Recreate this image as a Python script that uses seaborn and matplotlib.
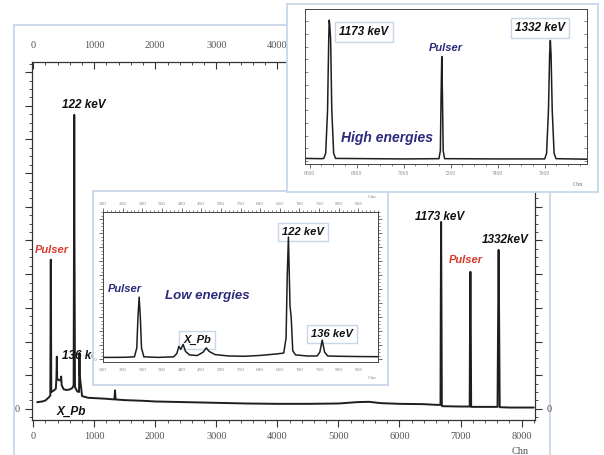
import matplotlib
matplotlib.use("Agg")
import matplotlib.pyplot as plt
import matplotlib.lines as mlines
import seaborn as sns
from matplotlib.ticker import MultipleLocator, FixedLocator, FuncFormatter, NullFormatter

# ---------------- data ----------------
main_chn = [65, 150, 200, 260, 280, 285, 288, 291, 296, 340, 370, 380, 387, 392, 420, 450,
            458, 466, 500, 550, 600, 640, 662, 668, 672, 676, 684, 720, 750, 754, 758, 762,
            800, 900, 1000, 1200, 1330, 1340, 1350, 1500, 1800, 2000, 2500, 3000, 3500,
            4000, 4500, 5000, 5300, 5500, 5700, 6000, 6400, 6600, 6672, 6676, 6682, 6688,
            6694, 6700, 7000, 7150, 7155, 7162, 7169, 7174, 7400, 7606, 7615, 7624, 7633,
            7642, 7800, 8200]
main_counts = [20, 22, 25, 35, 40, 300, 443, 300, 50, 55, 60, 90, 155, 90, 85, 85,
               96, 70, 58, 56, 58, 62, 70, 500, 873, 500, 65, 52, 50, 100, 166, 100,
               38, 33, 32, 30, 28, 55, 28, 26, 24, 22, 20, 18, 16,
               15, 15, 16, 20, 21, 17, 15, 14, 12, 12, 300, 555, 300,
               10, 8, 7, 7, 220, 407, 220, 6, 6, 6, 250, 472, 250,
               5, 4, 4]

low_chn = [200, 230, 260, 280, 286, 289, 292, 295, 298, 304, 340, 380, 388, 393, 398, 404,
           410, 420, 440, 455, 463, 470, 485, 520, 560, 600, 640, 660, 666, 669, 672, 676,
           679, 683, 690, 720, 745, 752, 758, 764, 772, 800, 850, 900]
low_counts = [12, 12, 13, 16, 80, 300, 443, 300, 80, 16, 12, 16, 40, 90, 70, 105,
              55, 30, 25, 50, 80, 55, 32, 22, 20, 26, 36, 43, 150, 600, 873, 380,
              300, 60, 30, 22, 22, 50, 136, 50, 22, 20, 18, 17]

high_chn = [6580, 6650, 6660, 6668, 6676, 6681, 6683, 6685, 6689, 6694, 6702, 6710, 7000,
            7150, 7156, 7159, 7162, 7165, 7168, 7174, 7400, 7600, 7608, 7616, 7621, 7624,
            7627, 7632, 7640, 7648, 7780]
high_counts = [10, 9, 10, 30, 200, 480, 555, 540, 480, 200, 30, 10, 8,
               9, 40, 250, 412, 250, 40, 9, 8, 8, 30, 200, 420, 475,
               420, 200, 30, 9, 7]

main_xticks = [0, 1000, 2000, 3000, 4000, 5000, 6000, 7000, 8000]
low_xticks = [200, 250, 300, 350, 400, 450, 500, 550, 600, 650, 700, 750, 800, 850]
high_xticks = [6600, 6800, 7000, 7200, 7400, 7600]

# ---------------- layout helpers ----------------
W, H = 604, 455
sns.set_style("white")
plt.rcParams["font.family"] = ["Liberation Sans", "DejaVu Sans"]

fig = plt.figure(figsize=(W / 100, H / 100), dpi=100)
fig.patch.set_facecolor("white")


def fbox(x0, y0, x1, y1):
    return [x0 / W, 1 - y1 / H, (x1 - x0) / W, (y1 - y0) / H]


FRAME = "#c8d7ea"
LINE = "#1e1e1e"
NAVY = "#2c2a7c"
RED = "#d8392b"
SERIF = ["Liberation Serif", "DejaVu Serif"]


def frame_axes(x0, y0, x1, y1, z):
    a = fig.add_axes(fbox(x0, y0, x1, y1), zorder=z)
    a.set_facecolor("white")
    a.set_xticks([])
    a.set_yticks([])
    for s in a.spines.values():
        s.set_color(FRAME)
        s.set_linewidth(1.3)
    return a


def px_to_ax(box, px, py):
    x0, y0, x1, y1 = box
    return (px - x0) / (x1 - x0), (y1 - py) / (y1 - y0)


def zero_only(v, pos):
    return "0" if abs(v) < 1e-6 else ""


# ---------------- main panel ----------------
frame_axes(14, 25, 550, 458, 0)
MAIN = (32, 62, 535, 420)
ax = fig.add_axes(fbox(*MAIN), zorder=1)
ax.set_facecolor("none")
sns.lineplot(x=main_chn, y=main_counts, ax=ax, color=LINE, lw=1.4,
             estimator=None, sort=False)
ax.set_xlim(-20, 8220)
ax.set_ylim(-33, 1030)
ax.set_xlabel("")
ax.set_ylabel("")
for s in ax.spines.values():
    s.set_color("#333333")
    s.set_linewidth(0.9)
ax.xaxis.set_major_locator(FixedLocator(main_xticks))
ax.xaxis.set_minor_locator(MultipleLocator(200))
ax.yaxis.set_major_locator(MultipleLocator(100))
ax.yaxis.set_minor_locator(MultipleLocator(25))
ax.yaxis.set_major_formatter(FuncFormatter(zero_only))
ax.tick_params(axis="x", which="both", top=True, bottom=True, labeltop=True,
               direction="out", colors="#333333", labelcolor="#555555", labelsize=7.5)
ax.tick_params(axis="x", which="major", length=5, width=0.8)
ax.tick_params(axis="x", which="minor", length=2.5, width=0.6)
ax.tick_params(axis="y", which="both", left=True, right=True, labelright=True,
               direction="out", colors="#333333", labelcolor="#555555", labelsize=7.5)
ax.tick_params(axis="y", which="major", length=5, width=0.8)
ax.tick_params(axis="y", which="minor", length=2.5, width=0.6)
for lab in ax.get_xticklabels() + ax.get_yticklabels():
    lab.set_family(SERIF)
for t in ax.xaxis.get_major_ticks() + ax.xaxis.get_minor_ticks():
    t.tick2line.set_marker(mlines.TICKDOWN)
# the top labels to the right of 4000 lie under the high-energy inset
for t, loc in zip(ax.xaxis.get_major_ticks(), main_xticks):
    if loc > 4000:
        t.label2.set_visible(False)

bi = dict(fontweight="bold", fontstyle="italic")
ax.text(*px_to_ax(MAIN, 84, 105), "122 keV", transform=ax.transAxes, ha="center",
        va="center", fontsize=8.5, color="#111111", **bi)
ax.text(*px_to_ax(MAIN, 52, 250), "Pulser", transform=ax.transAxes, ha="center",
        va="center", fontsize=8, color=RED, **bi)
ax.text(*px_to_ax(MAIN, 62, 356), "136 keV", transform=ax.transAxes, ha="left",
        va="center", fontsize=8.5, color="#111111", **bi)
ax.text(*px_to_ax(MAIN, 57, 412), "X_Pb", transform=ax.transAxes, ha="left",
        va="center", fontsize=8.5, color="#111111", **bi)
ax.text(*px_to_ax(MAIN, 440, 217), "1173 keV", transform=ax.transAxes, ha="center",
        va="center", fontsize=8.5, color="#111111", **bi)
ax.text(*px_to_ax(MAIN, 466, 260), "Pulser", transform=ax.transAxes, ha="center",
        va="center", fontsize=8, color=RED, **bi)
ax.text(*px_to_ax(MAIN, 505, 240), "1332keV", transform=ax.transAxes, ha="center",
        va="center", fontsize=8.5, color="#111111", **bi)
fig.text(520 / W, 1 - 451 / H, "Chn", ha="center", va="center", fontsize=7.5,
         color="#555555", family=SERIF)

# ---------------- low-energy inset ----------------
frame_axes(93, 191, 388, 385, 2)
LOW = (103, 212, 378, 362)
axl = fig.add_axes(fbox(*LOW), zorder=3)
axl.set_facecolor("white")
sns.lineplot(x=low_chn, y=low_counts, ax=axl, color=LINE, lw=1.1,
             estimator=None, sort=False)
axl.set_xlim(200, 900)
axl.set_ylim(-21, 1052)
axl.set_xlabel("")
axl.set_ylabel("")
for s in axl.spines.values():
    s.set_color("#444444")
    s.set_linewidth(0.7)
axl.xaxis.set_major_locator(FixedLocator(low_xticks))
axl.xaxis.set_minor_locator(MultipleLocator(10))
axl.yaxis.set_major_locator(MultipleLocator(100))
axl.yaxis.set_minor_locator(MultipleLocator(25))
axl.yaxis.set_major_formatter(FuncFormatter(zero_only))
axl.tick_params(axis="x", which="both", top=True, labeltop=True, direction="out",
                colors="#555555", labelcolor="#888888", labelsize=3.8, pad=1.5)
axl.tick_params(axis="x", which="major", length=3, width=0.6)
axl.tick_params(axis="x", which="minor", length=1.5, width=0.5)
axl.tick_params(axis="y", which="both", left=True, right=True, direction="out",
                colors="#555555", labelcolor="#888888", labelsize=3.8, pad=1.5)
axl.tick_params(axis="y", which="major", length=3, width=0.6)
axl.tick_params(axis="y", which="minor", length=1.5, width=0.5)
for lab in axl.get_xticklabels() + axl.get_yticklabels():
    lab.set_family(SERIF)

box_style = dict(boxstyle="square,pad=0.35", facecolor="white", edgecolor=FRAME, linewidth=1)
axl.text(*px_to_ax(LOW, 125, 289), "Pulser", transform=axl.transAxes, ha="center",
         va="center", fontsize=8, color=NAVY, **bi)
axl.text(*px_to_ax(LOW, 207, 296), "Low energies", transform=axl.transAxes, ha="center",
         va="center", fontsize=9.5, color=NAVY, **bi)
axl.text(*px_to_ax(LOW, 197, 340), "X_Pb", transform=axl.transAxes, ha="center",
         va="center", fontsize=8, color="#111111", bbox=box_style, zorder=1, **bi)
axl.text(*px_to_ax(LOW, 303, 232), "122 keV", transform=axl.transAxes, ha="center",
         va="center", fontsize=8, color="#111111", bbox=box_style, zorder=1, **bi)
axl.text(*px_to_ax(LOW, 332, 334), "136 keV", transform=axl.transAxes, ha="center",
         va="center", fontsize=8, color="#111111", bbox=box_style, zorder=1, **bi)
axl.text(*px_to_ax(LOW, 372, 197), "Chn", transform=axl.transAxes, ha="center",
         va="center", fontsize=3.8, color="#888888", family=SERIF)
axl.text(*px_to_ax(LOW, 372, 378), "Chn", transform=axl.transAxes, ha="center",
         va="center", fontsize=3.8, color="#888888", family=SERIF)
axl.get_lines()[0].set_zorder(2)

# ---------------- high-energy inset ----------------
frame_axes(287, 4, 598, 192, 4)
HIGH = (305, 9, 587, 164)
axh = fig.add_axes(fbox(*HIGH), zorder=5)
axh.set_facecolor("white")
sns.lineplot(x=high_chn, y=high_counts, ax=axh, color=LINE, lw=1.1,
             estimator=None, sort=False)
axh.set_xlim(6580, 7780)
axh.set_ylim(-12, 599)
axh.set_xlabel("")
axh.set_ylabel("")
for s in axh.spines.values():
    s.set_color("#444444")
    s.set_linewidth(0.7)
axh.xaxis.set_major_locator(FixedLocator(high_xticks))
axh.xaxis.set_minor_locator(MultipleLocator(50))
axh.yaxis.set_major_locator(MultipleLocator(50))
axh.yaxis.set_major_formatter(NullFormatter())
axh.tick_params(axis="x", which="both", bottom=True, direction="out",
                colors="#555555", labelcolor="#888888", labelsize=4, pad=2)
axh.tick_params(axis="x", which="major", length=3, width=0.6)
axh.tick_params(axis="x", which="minor", length=1.5, width=0.5)
axh.tick_params(axis="y", which="both", left=True, right=True, direction="in",
                colors="#555555", length=2, width=0.5)
for lab in axh.get_xticklabels():
    lab.set_family(SERIF)

axh.text(*px_to_ax(HIGH, 364, 32), "1173 keV", transform=axh.transAxes, ha="center",
         va="center", fontsize=8.5, color="#111111", bbox=box_style, zorder=1, **bi)
axh.text(*px_to_ax(HIGH, 540, 28), "1332 keV", transform=axh.transAxes, ha="center",
         va="center", fontsize=8.5, color="#111111", bbox=box_style, zorder=1, **bi)
axh.text(*px_to_ax(HIGH, 446, 48), "Pulser", transform=axh.transAxes, ha="center",
         va="center", fontsize=8, color=NAVY, **bi)
axh.text(*px_to_ax(HIGH, 387, 138), "High energies", transform=axh.transAxes, ha="center",
         va="center", fontsize=10, color=NAVY, **bi)
axh.text(*px_to_ax(HIGH, 578, 184), "Chn", transform=axh.transAxes, ha="center",
         va="center", fontsize=4.5, color="#777777", family=SERIF)
axh.get_lines()[0].set_zorder(2)

fig.savefig("out.png", dpi=100, facecolor="white")
